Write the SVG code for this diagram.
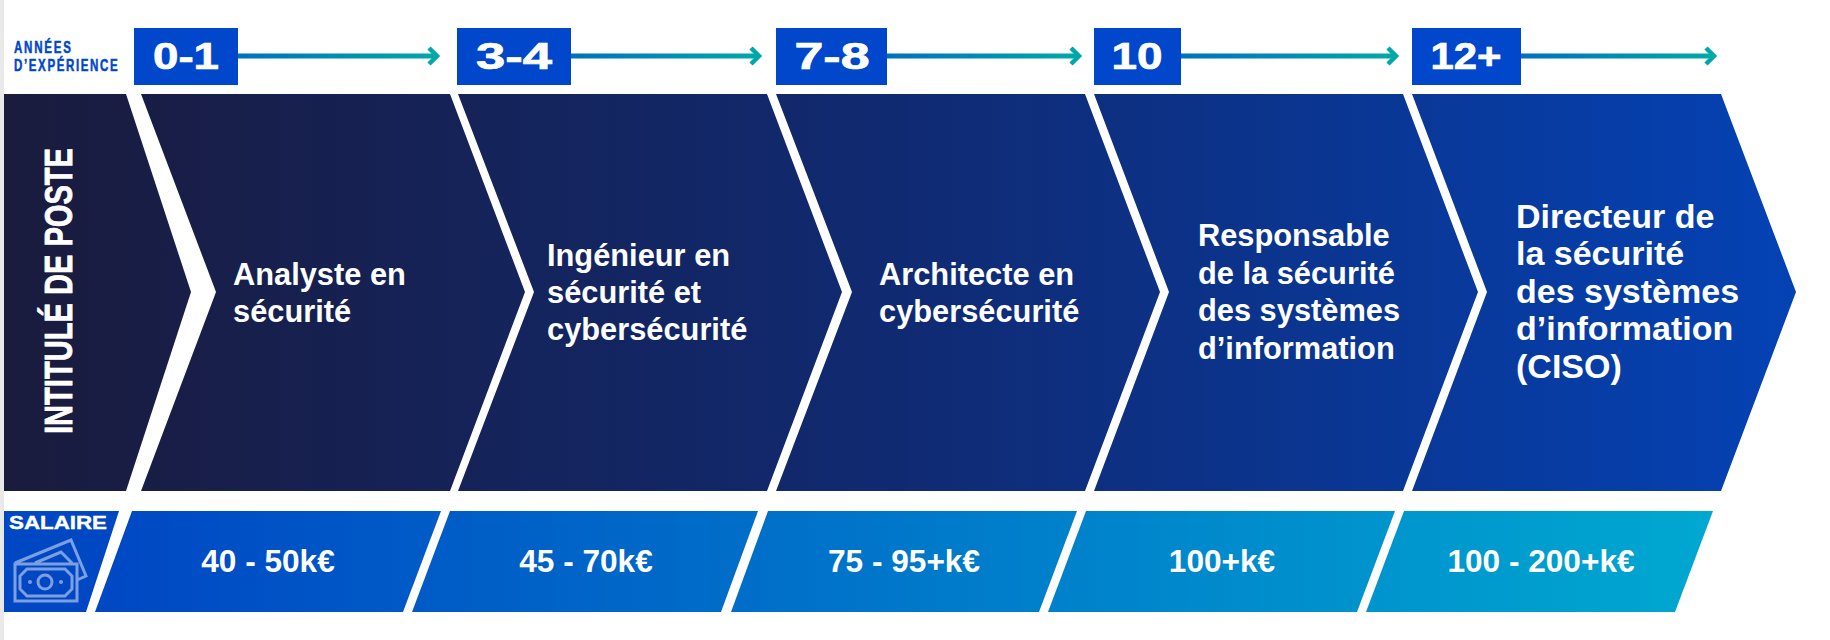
<svg xmlns="http://www.w3.org/2000/svg" xmlns:xlink="http://www.w3.org/1999/xlink" width="1830" height="640" viewBox="0 0 1830 640">
<style>
text{font-family:"Liberation Sans",Arial,sans-serif;font-weight:700;fill:#fff}
.job{font-size:30.8px}
.big{font-size:34px}
.sal{font-size:31.6px;text-anchor:middle}
.yr{font-size:36px;text-anchor:middle;stroke:#fff;stroke-width:.7}
.box{fill:#0047cb}
.head{font-size:16px;fill:#0047cb;stroke:#0047cb;stroke-width:.5}
.conn{stroke-width:5;fill:none}
.tip{stroke:#00a9a8;stroke-width:4.5;fill:none}
.ico{stroke:#7c9fe2;stroke-width:3;fill:none}
</style>
<defs>
<linearGradient id="band" gradientUnits="userSpaceOnUse" x1="4" y1="0" x2="1796" y2="0"><stop offset="0" stop-color="#1a1b3d"/><stop offset="0.5" stop-color="#102a72"/><stop offset="1" stop-color="#0442b4"/></linearGradient>
<linearGradient id="pay" gradientUnits="userSpaceOnUse" x1="95" y1="0" x2="1713" y2="0"><stop offset="0" stop-color="#0047c4"/><stop offset="1" stop-color="#00a8d0"/></linearGradient>
<linearGradient id="ar"><stop offset="0" stop-color="#0070bf"/><stop offset="1" stop-color="#00a9a8"/></linearGradient>
<linearGradient id="a0" xlink:href="#ar" gradientUnits="userSpaceOnUse" x1="238" y1="0" x2="438" y2="0"/>
<linearGradient id="a1" xlink:href="#ar" gradientUnits="userSpaceOnUse" x1="571" y1="0" x2="760" y2="0"/>
<linearGradient id="a2" xlink:href="#ar" gradientUnits="userSpaceOnUse" x1="887" y1="0" x2="1079" y2="0"/>
<linearGradient id="a3" xlink:href="#ar" gradientUnits="userSpaceOnUse" x1="1181" y1="0" x2="1396" y2="0"/>
<linearGradient id="a4" xlink:href="#ar" gradientUnits="userSpaceOnUse" x1="1521" y1="0" x2="1714" y2="0"/>
</defs>
<rect x="0" y="0" width="4" height="640" fill="#e9e9e9"/>
<g id="connectors">
<path class="conn" stroke="url(#a0)" d="M238 56H437"/><path class="tip" d="M429 48L437 56L429 64"/>
<path class="conn" stroke="url(#a1)" d="M571 56H759"/><path class="tip" d="M751 48L759 56L751 64"/>
<path class="conn" stroke="url(#a2)" d="M887 56H1079"/><path class="tip" d="M1071 48L1079 56L1071 64"/>
<path class="conn" stroke="url(#a3)" d="M1181 56H1396"/><path class="tip" d="M1388 48L1396 56L1388 64"/>
<path class="conn" stroke="url(#a4)" d="M1521 56H1714"/><path class="tip" d="M1706 48L1714 56L1706 64"/>
</g>
<g id="annees"><text class="head" transform="translate(14,53) scale(.72,1)" textLength="79" lengthAdjust="spacing">ANNÉES</text><text class="head" transform="translate(14,71) scale(.72,1)" textLength="144" lengthAdjust="spacing">D’EXPÉRIENCE</text></g>
<g id="y0"><rect class="box" x="134" y="28" width="104" height="57"/><text class="yr" x="186" y="69" textLength="66" lengthAdjust="spacingAndGlyphs">0-1</text></g>
<g id="y1"><rect class="box" x="457" y="28" width="114" height="57"/><text class="yr" x="514" y="69" textLength="76" lengthAdjust="spacingAndGlyphs">3-4</text></g>
<g id="y2"><rect class="box" x="776" y="28" width="111" height="57"/><text class="yr" x="832" y="69" textLength="75" lengthAdjust="spacingAndGlyphs">7-8</text></g>
<g id="y3"><rect class="box" x="1094" y="28" width="87" height="57"/><text class="yr" x="1137" y="69" textLength="51" lengthAdjust="spacingAndGlyphs">10</text></g>
<g id="y4"><rect class="box" x="1412" y="28" width="109" height="57"/><text class="yr" x="1466" y="69" textLength="71" lengthAdjust="spacingAndGlyphs">12+</text></g>
<g id="intitule"><polygon fill="url(#band)" points="4,94 126,94 191,292 126,491 4,491"/><text transform="translate(72,434) rotate(-90)" font-size="38" stroke="#fff" stroke-width=".8" textLength="286" lengthAdjust="spacingAndGlyphs">INTITULÉ DE POSTE</text></g>
<g id="job1"><polygon fill="url(#band)" points="141,94 450,94 525,292 450,491 141,491 216,292"/><text class="job" x="233" y="285">Analyste en</text><text class="job" x="233" y="322">sécurité</text></g>
<g id="job2"><polygon fill="url(#band)" points="458,94 767,94 842,292 767,491 458,491 534,292"/><text class="job" x="547" y="266">Ingénieur en</text><text class="job" x="547" y="303">sécurité et</text><text class="job" x="547" y="340">cybersécurité</text></g>
<g id="job3"><polygon fill="url(#band)" points="776,94 1085,94 1160,292 1085,491 776,491 852,292"/><text class="job" x="879" y="285">Architecte en</text><text class="job" x="879" y="322">cybersécurité</text></g>
<g id="job4"><polygon fill="url(#band)" points="1094,94 1403,94 1478,292 1403,491 1094,491 1169,292"/><text class="job" x="1198" y="246">Responsable</text><text class="job" x="1198" y="284">de la sécurité</text><text class="job" x="1198" y="321">des systèmes</text><text class="job" x="1198" y="359">d’information</text></g>
<g id="job5"><polygon fill="url(#band)" points="1412,94 1721,94 1796,292 1721,491 1412,491 1487,292"/><text class="big" x="1516" y="228">Directeur de</text><text class="big" x="1516" y="265">la sécurité</text><text class="big" x="1516" y="303">des systèmes</text><text class="big" x="1516" y="340">d’information</text><text class="big" x="1516" y="378">(CISO)</text></g>
<g id="salaire"><polygon fill="#0047c4" points="4,511 119,511 86,612 4,612"/><text x="9" y="528.5" font-size="18" stroke="#fff" stroke-width=".4" textLength="98" lengthAdjust="spacingAndGlyphs">SALAIRE</text>
<path class="ico" d="M15 564H77V601H15ZM15 563L71 540L86 576L77 580M35 563L61 552L72 563M27 569H65L72 576V589L65 596H27L20 589V576Z"/><circle class="ico" cx="45" cy="582" r="7"/><circle cx="30" cy="582" r="2" fill="#7c9fe2"/><circle cx="61" cy="582" r="2" fill="#7c9fe2"/></g>
<g id="sal1"><polygon fill="url(#pay)" points="132,511 441,511 403,612 95,612"/><text class="sal" x="268" y="572">40 - 50k€</text></g>
<g id="sal2"><polygon fill="url(#pay)" points="450,511 758,511 721,612 412,612"/><text class="sal" x="586" y="572">45 - 70k€</text></g>
<g id="sal3"><polygon fill="url(#pay)" points="768,511 1077,511 1039,612 731,612"/><text class="sal" x="904" y="572">75 - 95+k€</text></g>
<g id="sal4"><polygon fill="url(#pay)" points="1086,511 1395,511 1357,612 1048,612"/><text class="sal" x="1222" y="572">100+k€</text></g>
<g id="sal5"><polygon fill="url(#pay)" points="1404,511 1713,511 1675,612 1366,612"/><text class="sal" x="1541" y="572">100 - 200+k€</text></g>
</svg>
